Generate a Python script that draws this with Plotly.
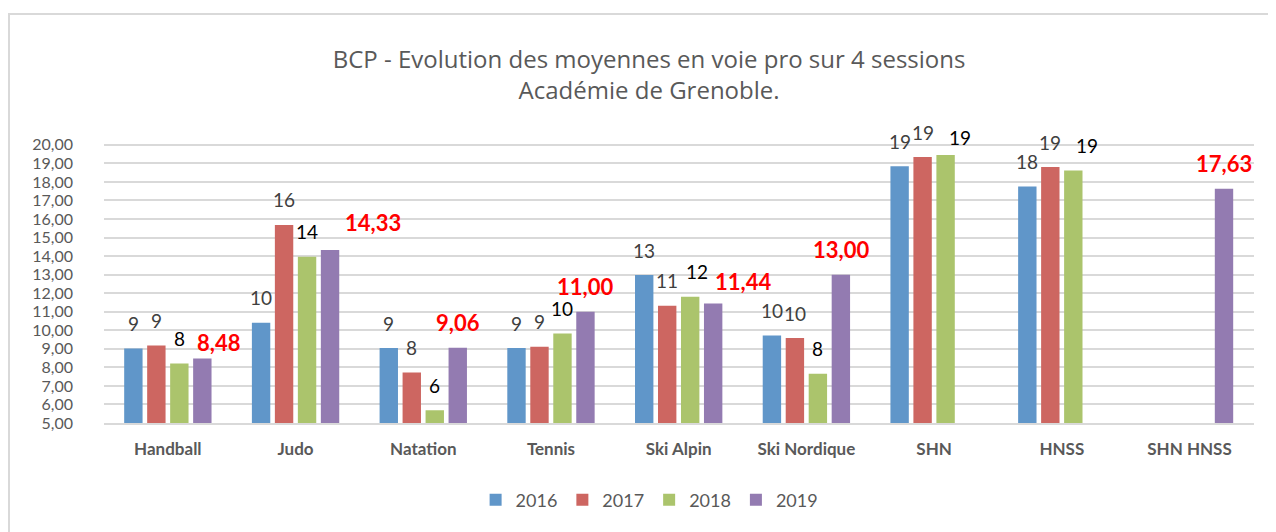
import plotly.graph_objects as go

categories = ["Handball", "Judo", "Natation", "Tennis", "Ski Alpin", "Ski Nordique", "SHN", "HNSS", "SHN HNSS"]
years = ["2016", "2017", "2018", "2019"]
v2016 = [9.02, 10.40, 9.04, 9.04, 12.98, 9.72, 18.85, 17.75, None]
v2017 = [9.18, 15.68, 7.72, 9.11, 11.32, 9.58, 19.34, 18.80, None]
v2018 = [8.21, 13.97, 5.69, 9.83, 11.81, 7.65, 19.45, 18.61, None]
v2019 = [8.48, 14.33, 9.06, 11.00, 11.44, 13.00, None, None, 17.63]
tick_vals = [5, 6, 7, 8, 9, 10, 11, 12, 13, 14, 15, 16, 17, 18, 19, 20]

# styling
colors = ["#6096C9", "#CD6661", "#ABC46C", "#937BB1"]
series = [v2016, v2017, v2018, v2019]
label_colors = ["#404040", "#404040", "#000000", "#FF0000"]
label_size = [19, 19, 19, 22]
FONT = "Lato, Open Sans, sans-serif"
BARGAP = 0.28
# label nudges (px) as placed in the original chart: (series index, category index) -> (dx, dy)
nudges = {(3, 0): (16, -9), (3, 1): (43, 2), (3, 4): (30, -3), (2, 4): (7, 0),
          (2, 6): (14, -7), (2, 7): (14, 0), (1, 6): (0, 0)}

W, H = 1268, 524
fig = go.Figure()
for name, vals, c in zip(years, series, colors):
    fig.add_trace(go.Bar(x=categories, y=vals, name=name,
                         marker=dict(color=c, line=dict(width=0))))

slot = (1 - BARGAP) / len(series)
annotations = []
for k, (vals, lc, fs) in enumerate(zip(series, label_colors, label_size)):
    off = (k - (len(series) - 1) / 2) * slot
    for i, v in enumerate(vals):
        if v is None:
            continue
        txt = f"<b>{v:.2f}</b>".replace(".", ",") if k == 3 else f"{v:.0f}"
        dx, dy = nudges.get((k, i), (0, 0))
        annotations.append(dict(
            x=i + off, y=v, xref="x", yref="y", text=txt, showarrow=False,
            xanchor="center", yanchor="middle", xshift=dx, yshift=25 + dy,
            font=dict(size=fs, color=lc, family=FONT),
        ))

fig.update_layout(
    width=W, height=H,
    margin=dict(l=96, r=22, t=109, b=109),
    paper_bgcolor="white", plot_bgcolor="white",
    separators=", ",
    barmode="group", bargap=BARGAP, bargroupgap=0.2,
    font=dict(family=FONT, color="#595959"),
    title=dict(
        text="BCP - Evolution des moyennes en voie pro sur 4 sessions<br>Académie de Grenoble.",
        x=0.474, xref="paper", xanchor="center", y=0.885, yanchor="top",
        font=dict(size=24, color="#595959", family="Open Sans, sans-serif"),
    ),
    legend=dict(
        orientation="h", x=0.506, xanchor="center", xref="container",
        y=0.061, yref="container", yanchor="middle",
        font=dict(size=18, color="#595959", family=FONT),
        traceorder="normal", itemwidth=30,
    ),
    showlegend=True,
    annotations=annotations,
)
fig.update_yaxes(
    range=[5, 21.5], tickvals=tick_vals, tickformat=".2f",
    showgrid=True, gridcolor="#D9D9D9", gridwidth=2,
    zeroline=False, showline=False, ticks="",
    tickfont=dict(size=16, color="#595959", family=FONT),
    ticklabelstandoff=30,
)
fig.update_xaxes(
    showline=True, linecolor="#D9D9D9", linewidth=2,
    ticks="", tickfont=dict(size=17, color="#595959", family=FONT),
    tickprefix="<b>", ticksuffix="</b>", ticklabelstandoff=10,
)
fig.add_shape(type="rect", xref="paper", yref="paper",
              x0=(1 - 96) / 1150, x1=1.2, y0=-1.0, y1=(415 - 6) / 306,
              line=dict(color="#D9D9D9", width=2), fillcolor="rgba(0,0,0,0)", layer="below")
fig.write_html("out.html")
